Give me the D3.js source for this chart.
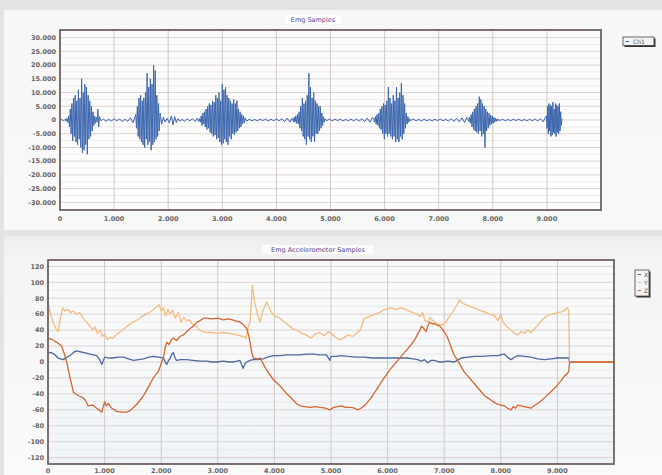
<!DOCTYPE html>
<html>
<head>
<meta charset="utf-8">
<script src="https://cdn.jsdelivr.net/npm/d3@7"></script>
<style>
  body { margin: 0; background: #e4e4e4; }
  svg { display: block; }
  .tick-label { font-family: "DejaVu Sans", Verdana, sans-serif; font-size: 6.5px; fill: #666; font-weight: bold; }
  .title { font-family: "DejaVu Sans", Verdana, sans-serif; font-size: 6.5px; fill: #5b3f8e; }
  .legend-text { font-family: "DejaVu Sans", Verdana, sans-serif; font-size: 6px; fill: #555; }
</style>
</head>
<body>
<div id="chart"></div>
<script>
'use strict'

// ---- tick labels ----
const xTickValues = [0, 1000, 2000, 3000, 4000, 5000, 6000, 7000, 8000, 9000]
const xTickLabels = ["0", "1.000", "2.000", "3.000", "4.000", "5.000", "6.000", "7.000", "8.000", "9.000"]
const emgTickValues = [30000, 25000, 20000, 15000, 10000, 5000, 0, -5000, -10000, -15000, -20000, -25000, -30000]
const emgTickLabels = ["30.000", "25.000", "20.000", "15.000", "10.000", "5.000", "0", "-5.000", "-10.000", "-15.000", "-20.000", "-25.000", "-30.000"]
const accTickValues = [120, 100, 80, 60, 40, 20, 0, -20, -40, -60, -80, -100, -120]
const accTickLabels = ["120", "100", "80", "60", "40", "20", "0", "-20", "-40", "-60", "-80", "-100", "-120"]

// ---- EMG samples: bursts (start, step, values) ----
const burstStart = [100, 1400, 2580, 4300, 5800, 7540, 8990]
const burstStep = [15, 15, 15, 15, 15, 15, 12]
const burst1 = [300, -400, 600, -900, 1500, -2500, 4000, -5000, 6000, -7500, 8000, -6000, 9000, -8000, 7000, -9000, 11000, -7000, 8000, -10000,
  15000, -12000, 10000, -11000, 13000, -9000, 12000, -12500, 9000, -7000, 7000, -6000, 5000, -4000, 3000, -2000, 1500, -1200, 1000, -800, 4000, -2500, 1200]
const burst2 = [2000, -3000, 5000, -6000, 8000, -7000, 9000, -8000, 7000, -9000, 8000, -10000, 10000, -7000, 17000, -9000, 12000, -8000, 15000, -11000,
  13000, -9000, 20000, -8000, 18000, -7000, 9000, -6000, 6000, -4000, 2500]
const burst3 = [500, -800, 1500, -2000, 2500, -1500, 3000, -2500, 4000, -3500, 5000, -3000, 6000, -4500, 5500, -5000, 7000, -6000, 6500, -5500,
  9000, -7000, 8000, -6500, 10000, -8000, 7000, -9000, 13000, -8500, 11000, -7000, 12000, -8000, 9000, -9000, 8000, -6000, 7000, -7000,
  6000, -5000, 7500, -5500, 6000, -4500, 7000, -4000, 4000, -3000, 3000, -2500, 2000, -1500, 1500, -1000, 800]
const burst4 = [400, -600, 1000, -800, 1500, -1200, 2000, -1500, 3000, -3000, 5000, -4000, 8000, -6000, 6000, -7000, 7000, -9000, 9000, -6000,
  17000, -7000, 12000, -8000, 8000, -6000, 10000, -8000, 7000, -5000, 6000, -5000, 5000, -4000, 5000, -3000, 2500, -2000, 1200, -800, 500]
const burst5 = [500, -800, 1200, -1500, 2000, -2000, 2500, -3000, 4000, -3500, 5000, -5000, 6000, -7000, 5500, -5000, 7000, -6000, 12000, -5000,
  8000, -6000, 6000, -7000, 9000, -6000, 7000, -8000, 12000, -7000, 8000, -8000, 10000, -6000, 13500, -7000, 9000, -5000, 6000, -3000,
  2500, -1500, 1200, -800, 500]
const burst6 = [400, -600, 1000, -1200, 2000, -2500, 3000, -3500, 4000, -4000, 5000, -4500, 6000, -5000, 8500, -4000, 7500, -6000, 6000, -5000,
  5000, -10000, 4000, -4000, 3000, -3000, 2500, -2000, 1800, -1500, 1500, -1200, 1000, -800, 700, -500, 400, -300, 200]
const burst7 = [1500, -3000, 5000, -5000, 6000, -4000, 5500, -6000, 5000, -5500, 6500, -4500, 4000, -5000, 6000, -6000, 5500, -4500, 5000, -5000,
  6000, -4000, 3000, -2000, 500]
const bursts = [burst1, burst2, burst3, burst4, burst5, burst6, burst7]

// quiet baseline between bursts [time, value]
const emgQuiet = [[0, 0], [30, 300], [60, -400], [90, 200],
  [760, -300], [800, 400], [850, -500], [900, 300], [950, -400], [1000, 500], [1050, -300], [1100, 400], [1150, -600], [1200, 300], [1250, -500], [1300, 800], [1350, -1000], [1385, 1200],
  [1880, -1500], [1910, 1000], [1940, -800], [1980, 600], [2020, -1000], [2060, 1500], [2090, -1800], [2120, 1200], [2150, -900], [2180, 500], [2220, -400], [2260, 300], [2300, -500], [2350, 400], [2400, -300], [2450, 500], [2500, -600], [2540, 700], [2565, -500],
  [3450, -400], [3500, 300], [3550, -300], [3600, 200], [3650, -300], [3700, 300], [3750, -200], [3800, 300], [3850, -400], [3900, 300], [3950, -300], [4000, 400], [4050, -300], [4100, 500], [4150, -600], [4200, 700], [4250, -800], [4285, 600],
  [4930, -300], [4980, 400], [5030, -300], [5080, 300], [5130, -200], [5180, 300], [5230, -300], [5280, 200], [5330, -300], [5380, 300], [5430, -300], [5480, 400], [5530, -400], [5580, 500], [5630, -600], [5680, 700], [5730, -800], [5770, 900],
  [6480, -300], [6530, 400], [6580, -300], [6630, 300], [6680, -400], [6730, 300], [6780, -300], [6830, 200], [6880, -300], [6930, 300], [6980, -300], [7030, 400], [7080, -300], [7130, 300], [7180, -400], [7230, 500], [7280, -500], [7330, 600], [7380, -700], [7430, 800], [7480, -900], [7520, 1000],
  [8130, -200], [8180, 300], [8230, -300], [8280, 200], [8330, -300], [8380, 300], [8430, -200], [8480, 300], [8530, -300], [8580, 200], [8630, -300], [8680, 300], [8730, -300], [8780, 400], [8830, -400], [8880, 500], [8930, -700], [8970, 900]]

// ---- accelerometer samples ----
const accXTime = [0, 60, 120, 180, 270, 330, 390, 450, 500, 560, 620, 680, 740, 800, 860, 920, 950, 980, 1000, 1080, 1150, 1240, 1330, 1420, 1510, 1600, 1690, 1780, 1860, 1950,
  2040, 2070, 2100, 2130, 2160, 2190, 2215, 2240, 2270, 2350, 2450, 2560, 2690, 2800, 2900, 2980, 3100, 3200, 3270, 3340, 3390, 3420, 3450, 3480, 3510, 3570, 3630, 3700, 3800, 3880,
  3980, 4100, 4220, 4330, 4450, 4570, 4690, 4800, 4920, 4980, 5000, 5090, 5180, 5300, 5450, 5590, 5720, 5850, 5950, 6060, 6200, 6350, 6450, 6530, 6600, 6650, 6710, 6770, 6830, 6900,
  6950, 7060, 7180, 7250, 7300, 7420, 7530, 7680, 7830, 7950, 8000, 8060, 8120, 8180, 8240, 8300, 8420, 8530, 8650, 8770, 8890, 9010, 9100, 9200, 9215, 10000]
const accXVal = [11, 12, 9, 5, 3, 6, 8, 12, 14, 13, 12, 11, 10, 9, 8, 2, -3, 2, 6, 5, 5, 6, 6, 4, 2, 3, 4, 6, 7, 6,
  5, 0, -3, 2, 5, 10, 12, 6, 2, 3, 3, 2, 1, 1, 0, 0, 1, 0, 0, 1, 2, -3, -8, -2, 0, 2, 3, 3, 4, 6,
  8, 8, 9, 9, 9, 10, 10, 9, 9, 2, 7, 7, 8, 7, 6, 6, 5, 5, 5, 5, 5, 5, 4, 3, 1, 3, -1, 2, 2, 0,
  0, 1, 0, 3, 5, 6, 7, 7, 8, 8, 9, 10, 6, 3, 6, 8, 7, 6, 4, 3, 4, 5, 5, 5, 0, 0]

const accYTime = [0, 40, 90, 140, 180, 220, 260, 300, 350, 400, 450, 500, 560, 620, 680, 740, 790, 830, 870, 920, 960, 1000, 1050, 1100, 1150, 1200, 1280, 1350, 1420, 1500,
  1580, 1660, 1740, 1820, 1900, 1960, 2000, 2040, 2080, 2120, 2160, 2200, 2250, 2300, 2350, 2400, 2450, 2500, 2560, 2620, 2680, 2740, 2800, 2900, 3000, 3100, 3200, 3300, 3380, 3450,
  3500, 3540, 3570, 3611, 3650, 3700, 3746, 3800, 3864, 3900, 3950, 4000, 4100, 4180, 4250, 4320, 4400, 4480, 4560, 4650, 4720, 4800, 4880, 4950, 5000, 5080, 5150, 5220, 5300, 5380,
  5450, 5520, 5580, 5650, 5710, 5780, 5850, 5920, 6000, 6060, 6150, 6250, 6350, 6450, 6520, 6580, 6620, 6660, 6710, 6750, 6800, 6870, 6950, 7030, 7100, 7180, 7230, 7270, 7320, 7380,
  7450, 7530, 7620, 7710, 7800, 7890, 7950, 8000, 8040, 8100, 8180, 8240, 8300, 8360, 8420, 8480, 8530, 8600, 8650, 8720, 8780, 8850, 8920, 9000, 9070, 9130, 9170, 9200, 9215, 10000]
const accYVal = [75, 62, 50, 42, 38, 55, 68, 64, 66, 62, 64, 60, 62, 55, 50, 45, 40, 44, 36, 40, 32, 35, 28, 31, 30, 34, 38, 42, 46, 50,
  53, 57, 60, 63, 68, 72, 64, 68, 58, 66, 60, 65, 55, 62, 50, 56, 52, 53, 47, 45, 40, 38, 37, 37, 36, 37, 36, 35, 33, 32,
  30, 45, 50, 96, 75, 60, 50, 65, 75, 70, 62, 58, 55, 50, 46, 42, 40, 36, 34, 30, 35, 37, 33, 38, 36, 31, 28, 30, 34, 32,
  36, 40, 54, 56, 58, 60, 62, 65, 67, 68, 66, 68, 65, 62, 60, 57, 62, 52, 50, 56, 52, 48, 46, 50, 58, 66, 72, 78, 74, 72,
  70, 68, 65, 63, 60, 58, 52, 60, 50, 45, 40, 36, 34, 38, 36, 40, 37, 42, 46, 52, 56, 59, 60, 62, 63, 65, 68, 65, 0, 0]

const accZTime = [0, 80, 150, 240, 290, 330, 390, 450, 535, 620, 660, 710, 790, 860, 950, 1000, 1030, 1065, 1125, 1215, 1300, 1390, 1450, 1510, 1570, 1625, 1690, 1745, 1800, 1860,
  1950, 2000, 2040, 2070, 2100, 2140, 2180, 2215, 2270, 2330, 2390, 2450, 2510, 2570, 2630, 2690, 2750, 2800, 2900, 3000, 3100, 3200, 3300, 3390, 3450, 3510, 3540, 3570, 3600, 3630,
  3700, 3750, 3800, 3860, 3920, 3980, 4040, 4100, 4160, 4220, 4280, 4335, 4390, 4450, 4540, 4630, 4720, 4810, 4900, 4980, 5050, 5120, 5180, 5260, 5350, 5420, 5470, 5530, 5590, 5650,
  5710, 5770, 5830, 5880, 5940, 6000, 6060, 6120, 6180, 6240, 6300, 6360, 6420, 6480, 6530, 6570, 6600, 6640, 6680, 6710, 6740, 6790, 6830, 6880, 6920, 6960, 7000, 7050, 7090, 7130,
  7180, 7230, 7270, 7350, 7410, 7470, 7530, 7590, 7650, 7710, 7770, 7830, 7890, 7940, 8000, 8060, 8120, 8180, 8220, 8260, 8300, 8360, 8420, 8480, 8530, 8590, 8650, 8710, 8770, 8830,
  8890, 8950, 9010, 9070, 9120, 9170, 9200, 9215, 10000]
const accZVal = [30, 28, 25, 20, 10, 0, -20, -38, -42, -45, -48, -55, -54, -58, -63, -50, -55, -52, -58, -62, -63, -63, -61, -57, -53, -48, -42, -35, -28, -20,
  -12, -2, 5, 18, 25, 22, 28, 30, 27, 32, 34, 38, 42, 45, 50, 52, 55, 55, 54, 55, 53, 54, 52, 50, 47, 42, 35, 25, 12, 5,
  4, 5, -2, -10, -16, -22, -26, -30, -35, -40, -44, -48, -52, -55, -56, -57, -56, -57, -58, -60, -57, -56, -55, -57, -57, -58, -60, -58, -55, -50,
  -45, -38, -32, -26, -20, -14, -8, -3, 2, 7, 12, 17, 22, 28, 35, 40, 45, 42, 38, 45, 50, 48, 48, 46, 45, 42, 38, 32, 25, 17,
  8, 3, -2, -12, -17, -22, -27, -32, -37, -42, -45, -48, -51, -53, -54, -55, -58, -60, -56, -58, -54, -55, -56, -57, -58, -55, -52, -49, -45, -41,
  -37, -33, -28, -23, -18, -15, -12, 0, 0]

const accSeries = ["X", "Y", "Z"]
const accColors = ["#4f67a0", "#f3bd7e", "#d6652f"]

// ---- layout ----
const W = 662, H = 475
const svg = d3.select("#chart").append("svg").attr("width", W).attr("height", H)
const defs = svg.append("defs")

function vGrad(id, stops) {
  const g = defs.append("linearGradient").attr("id", id).attr("x1", 0).attr("y1", 0).attr("x2", 0).attr("y2", 1)
  stops.forEach(s => g.append("stop").attr("offset", s[0]).attr("stop-color", s[1]))
}
vGrad("panelTop", [[0, "#f7f7f7"], [1, "#f9f9f9"]])
vGrad("panelBot", [[0, "#ededed"], [0.1, "#f4f4f4"], [1, "#fbfbfb"]])
vGrad("plotTop", [[0, "#fbfbfb"], [1, "#ffffff"]])
vGrad("plotBot", [[0, "#fafafa"], [0.6, "#f6f8fa"], [1, "#edf3f9"]])

// page pieces
svg.append("rect").attr("x", 0).attr("y", 0).attr("width", W).attr("height", H).attr("fill", "#e3e3e3")
svg.append("rect").attr("x", 4).attr("y", 10).attr("width", W - 4).attr("height", 220).attr("fill", "url(#panelTop)")
svg.append("rect").attr("x", 4).attr("y", 236).attr("width", W - 4).attr("height", H - 236).attr("fill", "url(#panelBot)")

function drawPanel(cfg) {
  const x = d3.scaleLinear().domain([0, 10000]).range([cfg.left, cfg.right])
  const y = d3.scaleLinear().domain(cfg.yDomain).range([cfg.bottom, cfg.top])
  const g = svg.append("g")

  g.append("rect").attr("x", cfg.left).attr("y", cfg.top)
    .attr("width", cfg.right - cfg.left).attr("height", cfg.bottom - cfg.top)
    .attr("fill", cfg.plotFill)

  // minor grid
  const minorY = cfg.yTicks.slice(0, -1).map((v, i) => (v + cfg.yTicks[i + 1]) / 2)
  g.selectAll(".minor-h").data(minorY).enter().append("line")
    .attr("x1", cfg.left).attr("x2", cfg.right)
    .attr("y1", d => y(d)).attr("y2", d => y(d))
    .attr("stroke", "#ebe5e3").attr("stroke-width", 0.8)

  // major grid
  g.selectAll(".grid-h").data(cfg.yTicks).enter().append("line")
    .attr("x1", cfg.left).attr("x2", cfg.right)
    .attr("y1", d => y(d)).attr("y2", d => y(d))
    .attr("stroke", "#d8cfcc").attr("stroke-width", 0.9)
  g.selectAll(".grid-v").data(xTickValues.slice(1)).enter().append("line")
    .attr("y1", cfg.top).attr("y2", cfg.bottom)
    .attr("x1", d => x(d)).attr("x2", d => x(d))
    .attr("stroke", "#d3c9c5").attr("stroke-width", 1)

  // tick labels
  g.selectAll(".ylab").data(cfg.yTicks).enter().append("text")
    .attr("class", "tick-label")
    .attr("x", cfg.left - 4).attr("y", d => y(d) + 2.3)
    .attr("text-anchor", "end")
    .text((d, i) => cfg.yLabels[i])
  g.selectAll(".xlab").data(xTickValues).enter().append("text")
    .attr("class", "tick-label")
    .attr("x", d => x(d)).attr("y", cfg.bottom + cfg.xLabelGap)
    .attr("text-anchor", "middle")
    .text((d, i) => xTickLabels[i])

  // title
  g.append("rect").attr("x", cfg.titleX - cfg.titleW / 2 - 3).attr("y", cfg.titleY - 7)
    .attr("width", cfg.titleW + 6).attr("height", 9).attr("fill", "#ffffff").attr("opacity", 0.7)
  g.append("text").attr("class", "title")
    .attr("x", cfg.titleX).attr("y", cfg.titleY)
    .attr("text-anchor", "middle").text(cfg.title)

  return { x, y, g }
}

// ---- top: EMG ----
const emgPanel = drawPanel({
  left: 60, right: 601, top: 30, bottom: 210, xLabelGap: 11,
  yDomain: [-32768, 32767], yTicks: emgTickValues, yLabels: emgTickLabels,
  plotFill: "url(#plotTop)", title: "Emg Samples", titleX: 313, titleY: 22, titleW: 50
})

let emgPoints = emgQuiet.slice()
bursts.forEach((vals, i) => {
  vals.forEach((v, j) => emgPoints.push([burstStart[i] + j * burstStep[i], v]))
})
emgPoints.sort((a, b) => a[0] - b[0])

const emgLine = d3.line().x(d => emgPanel.x(d[0])).y(d => emgPanel.y(d[1]))
emgPanel.g.append("path").datum(emgPoints)
  .attr("d", emgLine).attr("fill", "none")
  .attr("stroke", "#3c66ad").attr("stroke-width", 1)

emgPanel.g.append("rect").attr("x", 60).attr("y", 30).attr("width", 541).attr("height", 180)
  .attr("fill", "none").attr("stroke", "#6e625e").attr("stroke-width", 1.8)

// ---- bottom: accelerometer ----
const accPanel = drawPanel({
  left: 48, right: 614, top: 260, bottom: 464, xLabelGap: 8.5,
  yDomain: [-128, 128], yTicks: accTickValues, yLabels: accTickLabels,
  plotFill: "url(#plotBot)", title: "Emg Accelerometer Samples", titleX: 318, titleY: 252, titleW: 106
})

const accData = [
  accXTime.map((t, i) => [t, accXVal[i]]),
  accYTime.map((t, i) => [t, accYVal[i]]),
  accZTime.map((t, i) => [t, accZVal[i]])
]
const accLine = d3.line().x(d => accPanel.x(d[0])).y(d => accPanel.y(d[1]))
accData.forEach((pts, i) => {
  accPanel.g.append("path").datum(pts)
    .attr("d", accLine).attr("fill", "none")
    .attr("stroke", accColors[i]).attr("stroke-width", 1.3)
    .attr("stroke-linejoin", "round")
})

accPanel.g.append("rect").attr("x", 48).attr("y", 260).attr("width", 566).attr("height", 204)
  .attr("fill", "none").attr("stroke", "#6e625e").attr("stroke-width", 1.8)

// ---- legends ----
function legendBox(x0, y0, w, h, labels, colors) {
  const lg = svg.append("g")
  lg.append("rect").attr("x", x0 + 1.5).attr("y", y0 + 1.5).attr("width", w).attr("height", h).attr("fill", "#333")
  lg.append("rect").attr("x", x0).attr("y", y0).attr("width", w).attr("height", h)
    .attr("fill", "#f4f4f4").attr("stroke", "#444").attr("stroke-width", 0.8)
  labels.forEach((lab, i) => {
    const cy = y0 + 4.5 + i * 8
    lg.append("line").attr("x1", x0 + 2.5).attr("x2", x0 + 6).attr("y1", cy).attr("y2", cy)
      .attr("stroke", colors[i]).attr("stroke-width", 1)
    lg.append("text").attr("class", "legend-text")
      .attr("x", x0 + (labels.length > 1 ? 9 : 10)).attr("y", cy + 2).text(lab)
  })
}
legendBox(623, 37, 31, 8.5, ["Ch1"], ["#3c66ad"])
legendBox(635, 270, 14, 26, accSeries, accColors)
</script>
</body>
</html>
